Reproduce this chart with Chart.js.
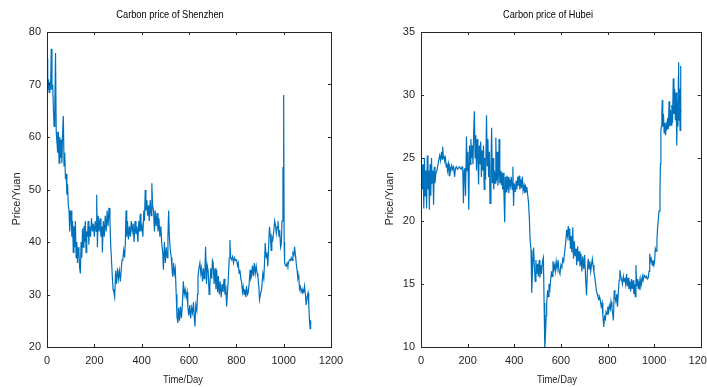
<!DOCTYPE html>
<html>
<head>
<meta charset="utf-8">
<script src="https://cdn.jsdelivr.net/npm/chart.js@4"></script>
<style>
  html, body { margin: 0; padding: 0; background: #fff; overflow: hidden; }
  body { width: 707px; height: 387px; position: relative; }
  canvas { position: absolute; top: 0; }
</style>
</head>
<body>
<canvas id="shenzhenChart" width="360" height="387" style="left:0"></canvas>
<canvas id="hubeiChart" width="360" height="387" style="left:360px"></canvas>
<script>
// [day, price]
const shenzhenPrices = [
  [0,75],[3,69],[6,71],[9,68.5],[12,70.5],[15,69],[18,76.8],[21,69],[24,70],[27,65.5],[30,62],[33,66],[36,76],[39,61],
  [42,59],[45,57],[48,61],[51,55],[54,60],[57,56],[60,59.5],[63,55],[66,61],[69,64],[72,54.5],[75,57],[78,52],[81,53],
  [84,49],[87,51],[90,47],[93,46],[96,42],[99,45],[102,46],[105,41],[108,44],[111,38],[114,43],[117,39],[120,44],[123,37],
  [126,40],[129,36],[132,39],[135,38],[138,35],[141,34],[144,40],[147,37],[150,42.5],[153,39],[156,43],[159,40],[162,44],
  [165,38],[168,42],[171,41],[174,44],[177,39.5],[180,43],[184,41],[188,44.5],[192,42],[196,43.5],[200,41],[204,44],[208,42],
  [210,49],[213,39],[216,45],[220,42],[224,44.5],[228,41],[232,43],[234,38],[238,44],[242,41],[246,45],[250,42],[254,46],
  [258,43],[262,46.5],[266,44],[269,39.6],[272,37],[276,33.4],[279,31],[283,30.3],[286,29.5],[290,34.5],[294,32],[298,35],
  [302,33],[306,34.5],[310,32.5],[314,35],[317,36.6],[321,37],[324,38.4],[328,37],[331,40],[334,46],[337,41],[340,44],
  [344,40.5],[348,43],[352,41],[356,44],[360,42],[364,43.5],[368,40],[372,44],[376,41.5],[380,43],[384,40],[388,44],
  [391,42],[394,45.4],[397,42],[401,43],[405,41],[409,46],[412,44],[415,49.9],[418,46],[422,48],[425,45],[429,47],[432,44],
  [436,48],[440,45],[443,51.2],[446,47],[450,46],[454,42],[457,46],[461,43],[465,45.5],[469,42],[473,44.5],[477,41],
  [481,43],[485,39.6],[489,38],[492,34.7],[496,40],[500,36],[504,39],[508,37],[511,41],[514,46],[517,41],[521,38.4],
  [525,37],[528,35],[531,33.4],[535,36],[538,34],[542,35],[546,30],[549,25.8],[553,24.6],[556,27.5],[560,25],[564,27.7],
  [568,25.5],[572,28],[576,32.5],[580,30],[584,31],[588,29.5],[592,30.5],[595,27.7],[599,26],[603,28],[607,25.5],
  [611,27.5],[615,26.5],[619,28.5],[622,26],[625,23.9],[629,28],[633,27],[636,30],[638,33.4],[642,35],[646,36],[650,34],
  [653,35],[657,32.5],[661,35],[664,33],[667,34],[670,39.1],[674,32],[677,35.5],[681,34.5],[685,30],[688,31.6],[692,35],
  [696,33],[699,36.5],[702,36.1],[706,32],[710,35],[714,31],[717,34.7],[721,30.5],[724,33.5],[728,30],[732,32.5],
  [736,29.5],[740,32],[744,30.5],[748,33],[752,30],[756,31],[759,27.7],[762,30],[766,33],[770,37],[773,40.4],[776,37],
  [780,36.6],[784,37.2],[788,36],[792,37],[796,36.5],[801,36.6],[805,35.5],[808,36],[812,34],[815,34.7],[819,33],
  [822,32.4],[826,30.5],[829,31.5],[833,30],[836,31],[840,29.5],[843,31.6],[847,30],[850,30.3],[854,32],[858,34.7],
  [861,33],[864,33.4],[868,35.5],[872,33.5],[876,36],[880,34],[884,35.4],[888,34],[891,33.4],[895,31.5],[898,29],
  [903,30.3],[907,31],[912,34],[916,33],[919,36],[922,39.8],[926,37],[929,38],[933,35.4],[936,38.5],[940,42.9],[944,41],
  [947,38.4],[950,41],[954,40.4],[958,42],[962,44],[966,43],[969,41.6],[973,43],[976,44],[980,41],[983,42.3],[987,39],
  [990,39.6],[993,44],[997,54.3],[999,45],[1000,68],[1002,40],[1004,36],[1008,35.5],[1011,35.4],[1015,36],[1018,35.5],
  [1022,36.3],[1025,36.6],[1029,36.5],[1032,37],[1036,36.5],[1039,37.9],[1043,37.5],[1046,39.1],[1050,37.5],[1053,36],
  [1057,34.5],[1060,33],[1064,33.5],[1067,31],[1071,31.5],[1074,30.5],[1078,31],[1081,30.3],[1085,30.5],[1088,31.6],
  [1092,30],[1095,28],[1099,29.5],[1103,30.3],[1106,28],[1109,25.1],[1112,23.5],[1114,25],[1116,25]
];

const hubeiPrices = [
  [0,23.8],[3,24.5],[6,22.5],[9,24.5],[12,21],[15,25],[18,22],[21,24],[24,21],[27,25.2],[30,22.5],[33,24],[36,20.9],
  [39,24.5],[42,22],[45,25],[48,23],[51,24],[54,21.3],[57,24.3],[60,23],[64,23.8],[68,24],[72,24.4],[76,24.8],[80,25.2],
  [84,24.8],[88,25.5],[91,24.9],[93,25.9],[96,25],[99,25.1],[102,24.8],[105,25],[108,24.3],[111,24.6],[114,24],[118,24.5],
  [121,23.6],[124,24.3],[128,24],[132,24.4],[136,24.1],[140,24.3],[144,23.5],[148,24.2],[152,24.3],[156,24.1],[160,24.2],
  [164,24.3],[168,24.2],[172,24.1],[176,24.3],[179,24.2],[182,21.4],[185,24],[188,24.2],[191,22],[195,26.7],[198,24],
  [201,25.5],[205,20.9],[208,26],[211,24.5],[214,26.5],[217,25],[220,26],[223,24.5],[226,27],[229,28.7],[232,25],
  [235,26.8],[238,24],[241,26.5],[244,25],[247,22.9],[250,26],[253,24.5],[256,26.3],[259,23.5],[262,25.6],[265,24],
  [268,26],[271,22.5],[274,25],[277,23.3],[281,28.4],[284,24.4],[287,26.5],[290,23.5],[293,25.5],[296,21.4],[300,24.5],
  [303,27.4],[306,23],[309,25],[312,22.5],[315,24],[318,23],[321,26.6],[324,23.2],[327,25.5],[330,22.8],[333,24],
  [335,26.5],[338,23],[341,24],[344,22.9],[347,23.9],[350,22.5],[353,23.8],[356,22],[359,19.9],[362,23.5],[365,22.3],
  [368,23.6],[371,22.5],[374,23.5],[377,22.2],[380,23.3],[384,22.8],[387,23.5],[391,22.5],[394,24.3],[397,21.2],[400,23],
  [404,22.3],[408,23.2],[411,22.5],[415,23.5],[418,22.8],[421,23.6],[424,22.5],[428,23.3],[431,22.6],[435,23.5],
  [438,22.4],[442,22.8],[445,22.2],[448,22.9],[451,22.3],[454,22.7],[458,22],[461,21.5],[465,20.1],[468,18.5],[472,17.7],
  [474,16],[476,14.3],[479,16.5],[483,17.9],[486,16.5],[490,15.2],[493,16.9],[496,15.8],[500,16.6],[503,15.6],[507,16.9],
  [510,15.5],[514,16.5],[517,15.8],[521,16.8],[525,17.1],[528,13.5],[531,9.8],[534,11],[537,12.5],[539,13.5],[543,14.5],
  [546,14],[549,15],[553,14.6],[556,15.3],[560,16],[562,15.6],[566,16.8],[570,16.2],[573,16.5],[576,16],[580,16.8],
  [584,16.2],[588,16.9],[592,16],[596,15.8],[600,16.5],[604,16.3],[608,17],[612,16.8],[616,17.5],[620,18.2],[625,19.3],
  [628,18.8],[632,19.6],[635,18.5],[638,19.4],[641,17.8],[644,18.8],[647,17.5],[651,19.5],[654,17],[658,18.4],[661,17.2],
  [665,17.8],[668,16.5],[672,18],[675,16.8],[679,17.6],[682,16.4],[686,17.4],[690,16],[694,17.2],[698,16.2],[702,17.3],
  [706,15.5],[710,14.1],[713,15.8],[717,17],[721,16.2],[724,16.8],[728,16],[731,16.5],[735,17],[738,16.5],[742,15.9],
  [745,15.6],[749,15],[752,14.5],[756,14.2],[759,14],[763,13.8],[766,14],[770,13.6],[773,13.2],[777,13.5],[780,12.5],
  [784,11.6],[787,12.4],[791,12.2],[794,12.8],[798,12.6],[801,13.2],[805,12.8],[808,13.3],[812,13],[815,13.6],[819,13.1],
  [822,12.7],[825,12.1],[829,14.5],[832,14],[836,13.6],[840,14.2],[843,13.2],[847,14.5],[850,15.3],[853,16.1],[857,15.6],
  [860,15.4],[864,15],[868,15.6],[871,15.2],[875,15.5],[878,15],[882,15.8],[885,14.8],[889,15.5],[892,14.6],[896,15.2],
  [899,14.4],[903,15.4],[906,14.6],[910,15.3],[913,14.2],[916,15],[919,14],[922,16.5],[925,14.8],[929,15.4],[932,14.6],
  [936,15.2],[939,14.5],[943,15.4],[946,15],[950,15.6],[953,15.3],[957,15.7],[960,15.6],[964,15.5],[967,15.6],[971,15.4],
  [975,15.5],[978,16],[981,17.4],[985,16.8],[988,17],[992,16.5],[995,16.9],[999,16.5],[1002,16.8],[1005,17.8],[1008,17.6],
  [1012,18.5],[1015,19.5],[1018,20.1],[1021,20.8],[1025,22.2],[1027,24.5],[1029,27.2],[1031,27.5],[1033,28.5],[1035,29.6],
  [1037,27.5],[1040,28.5],[1043,27],[1046,27.8],[1049,26.8],[1052,27.6],[1055,27.2],[1058,28.2],[1061,27.3],[1064,29.5],
  [1067,27.5],[1070,28.8],[1073,27.6],[1076,29.2],[1079,27.8],[1082,31.3],[1085,28.5],[1088,30.5],[1091,28],[1094,30.2],
  [1097,26],[1100,29.5],[1102,27.5],[1104,31.5],[1105,32.6],[1107,28],[1109,30.5],[1111,27.2],[1113,32.3],[1115,28.8],
  [1117,28.7]
];

const dayTicks = [0, 200, 400, 600, 800, 1000, 1200];
const shenzhenTicks = [20, 30, 40, 50, 60, 70, 80];
const hubeiTicks = [10, 15, 20, 25, 30, 35];

const LINE_COLOR = '#0072BD';
const AXIS_COLOR = '#262626';
const FONT_FAMILY = '"Liberation Sans", Arial, sans-serif';

// MATLAB-like box with inward ticks, plus the hand-placed texts
const matlabFrame = {
  id: 'matlabFrame',
  afterDraw(chart, args, opts) {
    const ctx = chart.ctx;
    const { left, right, top, bottom } = chart.chartArea;
    const xs = chart.scales.x, ys = chart.scales.y;
    ctx.save();
    ctx.strokeStyle = AXIS_COLOR;
    ctx.lineWidth = 1;
    ctx.strokeRect(Math.round(left) + 0.5, Math.round(top) + 0.5, Math.round(right - left), Math.round(bottom - top));
    ctx.beginPath();
    xs.ticks.forEach(t => {
      const px = Math.round(xs.getPixelForValue(t.value)) + 0.5;
      ctx.moveTo(px, bottom); ctx.lineTo(px, bottom - 3);
      ctx.moveTo(px, top); ctx.lineTo(px, top + 3);
    });
    ys.ticks.forEach(t => {
      const py = Math.round(ys.getPixelForValue(t.value)) + 0.5;
      ctx.moveTo(left, py); ctx.lineTo(left + 3, py);
      ctx.moveTo(right, py); ctx.lineTo(right - 3, py);
    });
    ctx.stroke();

    ctx.fillStyle = '#000';
    ctx.textAlign = 'center';
    ctx.textBaseline = 'middle';
    const squeezed = (text, x, y, size, sx) => {
      ctx.save();
      ctx.translate(x, y);
      ctx.scale(sx, 1);
      ctx.font = size + 'px ' + FONT_FAMILY;
      ctx.fillText(text, 0, 0);
      ctx.restore();
    };
    squeezed(opts.title, opts.titleX, 15, 10.5, 0.88);
    ctx.fillStyle = AXIS_COLOR;
    squeezed('Time/Day', opts.xLabelX, 380, 11.5, 0.82);
    ctx.save();
    ctx.translate(opts.yLabelX, 199);
    ctx.rotate(-Math.PI / 2);
    ctx.font = '11px ' + FONT_FAMILY;
    ctx.fillText('Price/Yuan', 0, 0);
    ctx.restore();
    ctx.restore();
  }
};

function buildChart(canvasId, series, yTicks, frame, axisWidth, rightPad) {
  const ctx = document.getElementById(canvasId).getContext('2d');
  const tickFont = { family: FONT_FAMILY, size: 11 };
  return new Chart(ctx, {
    type: 'line',
    data: {
      datasets: [{
        data: series.map(([day, price]) => ({ x: day, y: price })),
        borderColor: LINE_COLOR,
        borderWidth: 1.2,
        pointRadius: 0,
        tension: 0
      }]
    },
    options: {
      responsive: false,
      animation: false,
      layout: { padding: { left: 0, top: 32, right: rightPad, bottom: 0 } },
      plugins: { legend: { display: false }, tooltip: { enabled: false }, matlabFrame: frame },
      scales: {
        x: {
          type: 'linear',
          min: dayTicks[0],
          max: dayTicks[dayTicks.length - 1],
          afterBuildTicks: s => { s.ticks = dayTicks.map(v => ({ value: v })); },
          afterFit: s => { s.height = 40; },
          grid: { display: false, drawTicks: false },
          border: { display: false },
          ticks: { padding: 7, maxRotation: 0, autoSkip: false, color: AXIS_COLOR, font: tickFont,
                   callback: v => String(v) }
        },
        y: {
          min: yTicks[0],
          max: yTicks[yTicks.length - 1],
          afterBuildTicks: s => { s.ticks = yTicks.map(v => ({ value: v })); },
          afterFit: s => { s.width = axisWidth; },
          grid: { display: false, drawTicks: false },
          border: { display: false },
          ticks: { padding: 6, autoSkip: false, color: AXIS_COLOR, font: tickFont,
                   callback: v => String(v) }
        }
      }
    },
    plugins: [matlabFrame]
  });
}

buildChart('shenzhenChart', shenzhenPrices, shenzhenTicks,
  { title: 'Carbon price of Shenzhen', titleX: 170, xLabelX: 183, yLabelX: 17 }, 47, 29);
buildChart('hubeiChart', hubeiPrices, hubeiTicks,
  { title: 'Carbon price of Hubei', titleX: 188, xLabelX: 197, yLabelX: 30 }, 61, 15);
</script>
</body>
</html>
